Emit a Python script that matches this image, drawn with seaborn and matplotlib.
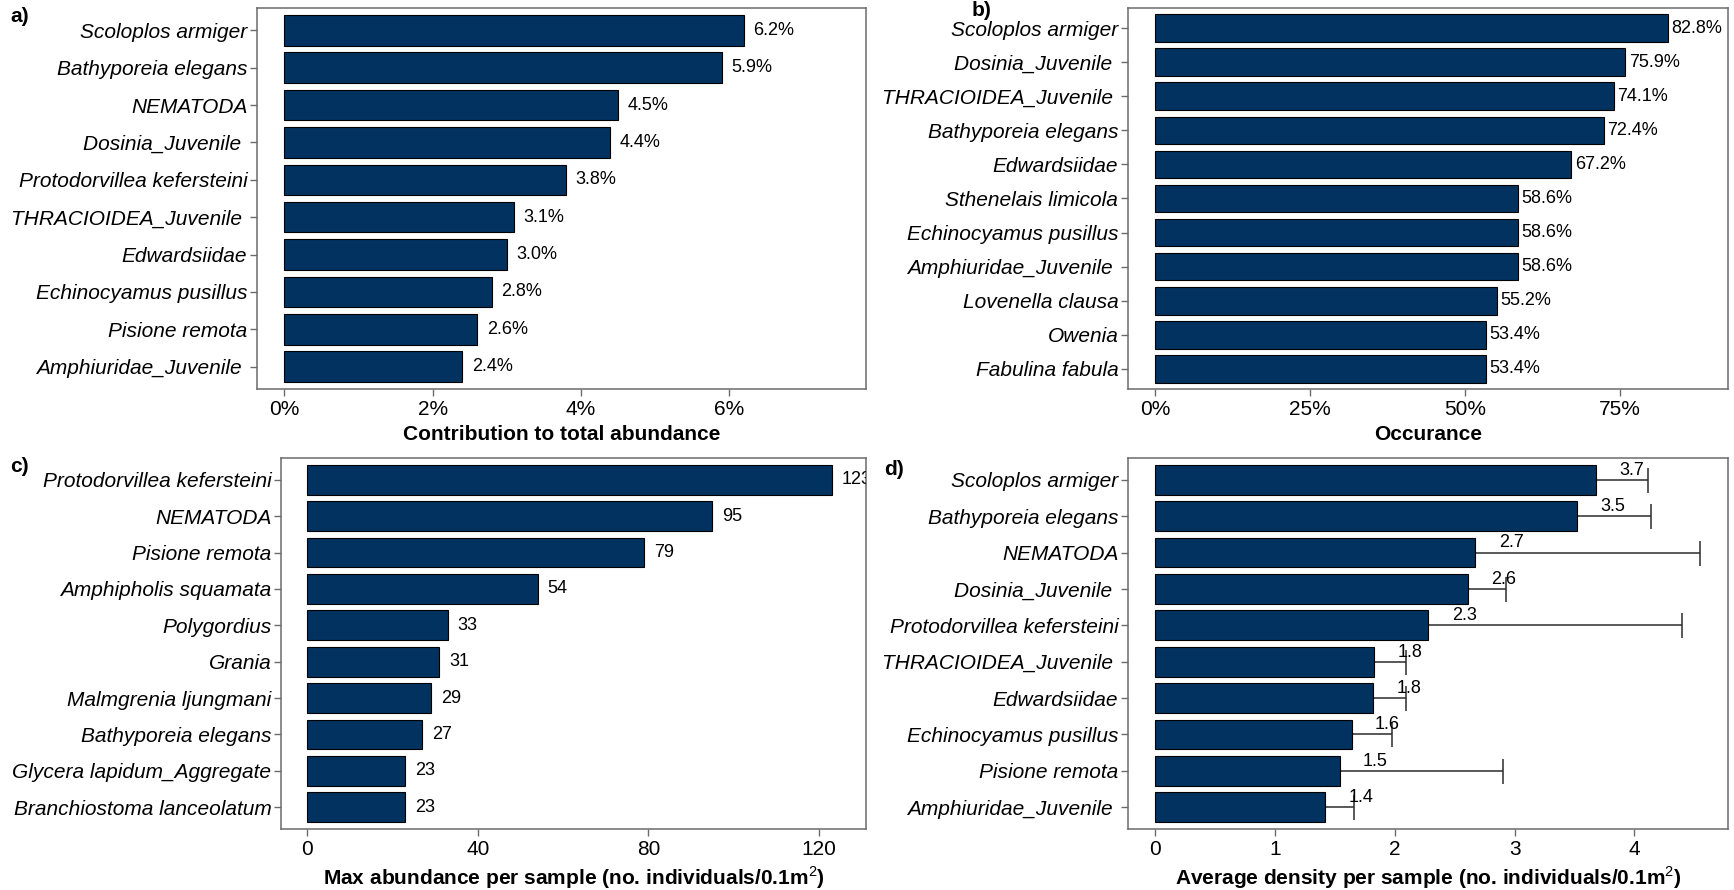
import matplotlib
matplotlib.use("Agg")
import matplotlib.pyplot as plt
import seaborn as sns
import pandas as pd
from matplotlib.ticker import FuncFormatter

# ---- data -------------------------------------------------------------
contrib_species = ["Scoloplos armiger", "Bathyporeia elegans", "NEMATODA", "Dosinia_Juvenile ",
                   "Protodorvillea kefersteini", "THRACIOIDEA_Juvenile ", "Edwardsiidae",
                   "Echinocyamus pusillus", "Pisione remota", "Amphiuridae_Juvenile "]
contrib_pct = [6.2, 5.9, 4.5, 4.4, 3.8, 3.1, 3.0, 2.8, 2.6, 2.4]

occur_species = ["Scoloplos armiger", "Dosinia_Juvenile ", "THRACIOIDEA_Juvenile ",
                 "Bathyporeia elegans", "Edwardsiidae", "Sthenelais limicola",
                 "Echinocyamus pusillus", "Amphiuridae_Juvenile ", "Lovenella clausa",
                 "Owenia", "Fabulina fabula"]
occur_pct = [82.8, 75.9, 74.1, 72.4, 67.2, 58.6, 58.6, 58.6, 55.2, 53.4, 53.4]

maxab_species = ["Protodorvillea kefersteini", "NEMATODA", "Pisione remota",
                 "Amphipholis squamata", "Polygordius", "Grania", "Malmgrenia ljungmani",
                 "Bathyporeia elegans", "Glycera lapidum_Aggregate", "Branchiostoma lanceolatum"]
maxab_count = [123, 95, 79, 54, 33, 31, 29, 27, 23, 23]

dens_species = ["Scoloplos armiger", "Bathyporeia elegans", "NEMATODA", "Dosinia_Juvenile ",
                "Protodorvillea kefersteini", "THRACIOIDEA_Juvenile ", "Edwardsiidae",
                "Echinocyamus pusillus", "Pisione remota", "Amphiuridae_Juvenile "]
dens_mean = [3.68, 3.52, 2.67, 2.61, 2.28, 1.83, 1.82, 1.64, 1.54, 1.42]
dens_sd = [0.43, 0.62, 1.88, 0.32, 2.12, 0.26, 0.27, 0.34, 1.36, 0.24]

# ---- style ------------------------------------------------------------
sns.set_style("white")
plt.rcParams["font.family"] = ["Liberation Sans", "DejaVu Sans"]
plt.rcParams["text.color"] = "black"
plt.rcParams["axes.labelcolor"] = "black"
plt.rcParams["mathtext.fontset"] = "custom"
plt.rcParams["mathtext.rm"] = "Liberation Sans"
plt.rcParams["mathtext.bf"] = "Liberation Sans:bold"

BAR = "#02325F"
FRAME = "#6b6b6b"
W, H = 1734, 890

fig = plt.figure(figsize=(W / 100, H / 100), dpi=100)


def add_axes(l, r, t, b):
    return fig.add_axes([l / W, 1 - b / H, (r - l) / W, (b - t) / H])


ax_a = add_axes(257, 866, 8, 389)
ax_b = add_axes(1128, 1728, 8, 389)
ax_c = add_axes(281, 866, 458, 829)
ax_d = add_axes(1128, 1728, 458, 829)


def hbar(ax, species, values, xlim, xlabel):
    df = pd.DataFrame({"species": species, "value": values})
    sns.barplot(data=df, y="species", x="value", order=species, orient="h",
                color=BAR, edgecolor="black", linewidth=0.8, width=0.82,
                saturation=1, ax=ax)
    ax.set_xlim(*xlim)
    ax.set_ylim(len(species) - 0.4, -0.6)
    ax.set_ylabel("")
    ax.set_xlabel(xlabel, fontsize=15, fontweight="bold", labelpad=4, color="black")
    for s in ax.spines.values():
        s.set_color(FRAME)
        s.set_linewidth(1.1)
        s.set_visible(True)
    ax.tick_params(axis="both", which="both", direction="out", length=5, width=1,
                   color=FRAME, labelcolor="black", left=True, bottom=True)
    ax.tick_params(axis="x", labelsize=15, pad=3)
    ax.tick_params(axis="y", labelsize=15, pad=2)
    for lab in ax.get_yticklabels():
        lab.set_fontstyle("italic")
    return df


# a) contribution to total abundance
hbar(ax_a, contrib_species, contrib_pct, (-0.37, 7.85), "Contribution to total abundance")
ax_a.set_xticks([0, 2, 4, 6])
ax_a.xaxis.set_major_formatter(FuncFormatter(lambda v, p: f"{v:.0f}%"))
for i, v in enumerate(contrib_pct):
    ax_a.annotate(f"{v:.1f}%", (v, i), xytext=(7, 0), textcoords="offset points",
                  ha="left", va="center", fontsize=13)

# b) occurrence
hbar(ax_b, occur_species, occur_pct, (-4.4, 92.5), "Occurance")
ax_b.set_xticks([0, 25, 50, 75])
ax_b.xaxis.set_major_formatter(FuncFormatter(lambda v, p: f"{v:.0f}%"))
for i, v in enumerate(occur_pct):
    ax_b.annotate(f"{v:.1f}%", (v, i), xytext=(2.5, 0), textcoords="offset points",
                  ha="left", va="center", fontsize=13)

# c) max abundance per sample
hbar(ax_c, maxab_species, maxab_count, (-6.15, 131),
     r"Max abundance per sample (no. individuals/0.1m$^2$)")
ax_c.set_xticks([0, 40, 80, 120])
for i, v in enumerate(maxab_count):
    ax_c.annotate(f"{v}", (v, i), xytext=(7, 0), textcoords="offset points",
                  ha="left", va="center", fontsize=13, annotation_clip=False,
                  clip_on=True)

# d) average density per sample with error bars
ax_d.errorbar(dens_mean, range(len(dens_species)), xerr=dens_sd, fmt="none",
              ecolor="#2b2b2b", elinewidth=1.1, capsize=9, capthick=1.1, zorder=0.5)
hbar(ax_d, dens_species, dens_mean, (-0.225, 4.78),
     r"Average density per sample (no. individuals/0.1m$^2$)")
ax_d.set_xticks([0, 1, 2, 3, 4])
for i, v in enumerate(dens_mean):
    ax_d.text(v + 0.3, i - 0.03, f"{v:.1f}", ha="center", va="bottom", fontsize=13,
              zorder=5)

# panel tags
for tag, x, y in [("a)", 20, 16), ("b)", 982, 11), ("c)", 19, 466), ("d)", 894, 470)]:
    fig.text(x / W, 1 - y / H, tag, ha="center", va="center", fontsize=15,
             fontweight="bold")

fig.savefig("out.png", dpi=100, facecolor="white")
